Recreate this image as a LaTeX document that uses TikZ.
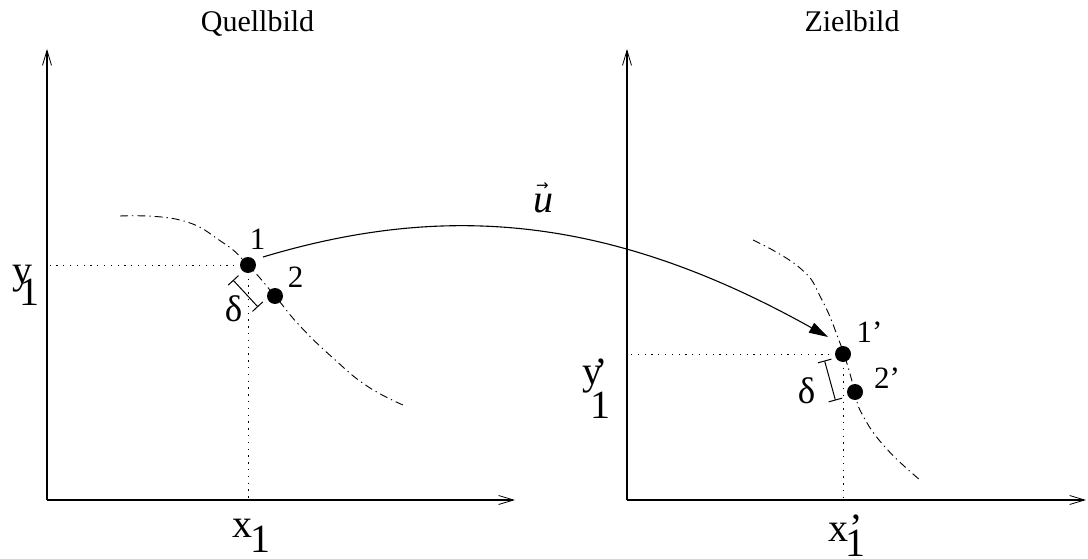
\documentclass[tikz,border=0pt]{standalone}
\usepackage{fontspec}
\setmainfont{Liberation Serif}
\newfontfamily\symfont{DejaVu Sans}
\usetikzlibrary{arrows.meta}
\begin{document}
\begin{tikzpicture}[x=1pt,y=-1pt,
  axis/.style={line width=1.2pt,-{Straight Barb[length=15pt,width=9pt,line width=0.8pt]}},
  dotline/.style={line width=1pt,dash pattern=on 1.3pt off 5.5pt},
  dashdotline/.style={line width=0.9pt,dash pattern=on 8pt off 4pt on 1.3pt off 4pt},
  pointdot/.style={circle,fill=black,inner sep=0pt,minimum size=16pt},
  deltabar/.style={line width=1pt,{Bar[width=14pt,line width=1pt]}-{Bar[width=14pt,line width=1pt]}},
  uarrow/.style={line width=1.1pt,-{Triangle[length=19pt,width=11pt]}},
  title/.style={font=\fontsize{30}{30}\selectfont,inner sep=0pt,anchor=base},
  biglab/.style={font=\fontsize{40}{40}\selectfont,inner sep=0pt,anchor=base west},
  numlab/.style={font=\fontsize{31}{31}\selectfont,inner sep=0pt},
  deltalab/.style={font=\fontsize{37}{37}\selectfont,inner sep=0pt},
]
\useasboundingbox (0,0) rectangle (1088,559);

% titles
\node[title] (t1) at (257.5,32) {Quellbild};
\node[title] (t2) at (852,32) {Zielbild};

% axes
\coordinate (o1) at (47,500);
\coordinate (o1y) at (47,49);
\coordinate (o1x) at (515,500);
\coordinate (o2) at (627,500);
\coordinate (o2y) at (627,49);
\coordinate (o2x) at (1086,500);
\draw[axis] (o1) -- (o1y);
\draw[axis] (o1) -- (o1x);
\draw[axis] (o2) -- (o2y);
\draw[axis] (o2) -- (o2x);

% points
\node[pointdot] (p1) at (248,265) {};
\node[pointdot] (p2) at (275,296) {};
\node[pointdot] (q1) at (843,354) {};
\node[pointdot] (q2) at (855,392) {};

% dotted guides
\draw[dotline] (p1.center) -- (o1 |- p1);
\draw[dotline] (p1.center) -- (p1 |- o1);
\draw[dotline] (q1.center) -- (o2 |- q1);
\draw[dotline] (q1.center) -- (q1 |- o2);

% dash-dot curves
\draw[dashdotline] plot[smooth,tension=0.8] coordinates
  {(120,216) (180,220) (222,242) (248,265) (275,296) (300,326) (333,358) (367,386) (403,405)};
\draw[dashdotline] plot[smooth,tension=0.8] coordinates
  {(753,240) (800,268) (822,300) (840,343) (848,367) (855,392) (862,414) (885,447) (920,480)};

% delta bars
\coordinate (d1a) at (233,280);
\coordinate (d1b) at (258,307);
\coordinate (d2a) at (824.5,360.5);
\coordinate (d2b) at (835.5,400.5);
\draw[deltabar] (d1a) -- (d1b);
\draw[deltabar] (d2a) -- (d2b);
\node[deltalab] (dl1) at (233.5,308.5) {δ};
\node[deltalab] (dl2) at (806.5,390.5) {δ};

% point labels
\node[numlab] (l1) at (257.5,239) {1};
\node[numlab] (l2) at (295.5,277.5) {2};
\node[numlab,anchor=base west] (l1p) at (856.5,342) {1’};
\node[numlab,anchor=base west] (l2p) at (874,388) {2’};

% axis labels
\node[biglab] (ly) at (12,283) {y};
\node[biglab] (ly1) at (19,305) {1};
\node[biglab] (lx) at (232,537) {x};
\node[biglab] (lx1) at (250.6,552) {1};
\node[biglab] (lyp) at (582,384) {y};
\node[biglab] (lyp1) at (590.6,418) {1};
\node[biglab] (lypp) at (594,385) {’};
\node[biglab] (lxp) at (828,541) {x};
\node[biglab] (lxp1) at (845.6,556) {1};
\node[biglab] (lxpp) at (849,541) {’};

% displacement vector
\coordinate (us) at (263,257);
\coordinate (ue) at (828,337);
\draw[uarrow] (us) .. controls (443,203) and (608,214) .. (ue);
\node[inner sep=0pt,anchor=base west,font=\fontsize{40}{40}\selectfont] (ulab) at (533,213)
  {\rlap{\hspace{3pt}\raisebox{23pt}{\symfont\fontsize{15}{15}\selectfont →}}\textit{u}};
\end{tikzpicture}
\end{document}
